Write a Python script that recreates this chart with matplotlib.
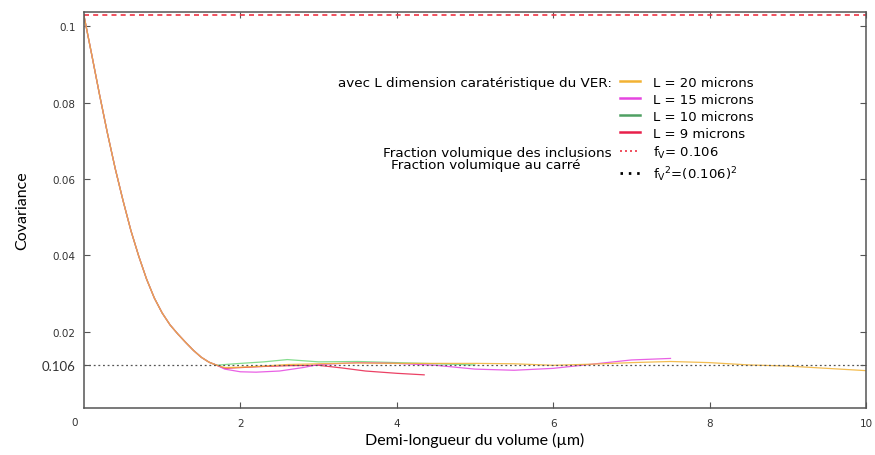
import matplotlib
matplotlib.use("Agg")
import matplotlib.pyplot as plt
from matplotlib.lines import Line2D

# ---------------- data ----------------
x_decay = [0.0, 0.1, 0.2, 0.3, 0.4, 0.5, 0.6, 0.7, 0.8, 0.9, 1.0, 1.1, 1.2, 1.3, 1.4, 1.5, 1.6, 1.7]
y_decay = [0.1028, 0.0925, 0.0820, 0.0720, 0.0627, 0.0543, 0.0465, 0.0398, 0.0338, 0.0288,
           0.0249, 0.0218, 0.0194, 0.0172, 0.0151, 0.0133, 0.0120, 0.0112]

x_L20 = [1.8, 2.0, 2.3, 2.6, 3.0, 3.5, 4.0, 4.5, 5.0, 5.5, 6.0, 6.5, 7.0, 7.5, 8.0, 8.5, 9.0, 9.5, 10.0]
y_L20 = [0.0106, 0.0107, 0.0110, 0.0114, 0.0116, 0.0118, 0.0117, 0.0117, 0.0117, 0.0116, 0.0112,
         0.0115, 0.0119, 0.0122, 0.0119, 0.0113, 0.0110, 0.0104, 0.0098]

x_L15 = [1.8, 2.0, 2.2, 2.5, 2.8, 3.0, 3.5, 4.0, 4.5, 5.0, 5.5, 6.0, 6.5, 7.0, 7.5]
y_L15 = [0.0102, 0.0095, 0.0094, 0.0097, 0.0106, 0.0114, 0.0119, 0.0117, 0.0112, 0.0102, 0.0099,
         0.0104, 0.0115, 0.0126, 0.0130]

x_L10 = [1.8, 2.0, 2.3, 2.6, 2.8, 3.0, 3.5, 4.0, 4.5, 5.0]
y_L10 = [0.0114, 0.0117, 0.0121, 0.0127, 0.0124, 0.0121, 0.0122, 0.0119, 0.0116, 0.0113]

x_L9 = [1.8, 2.0, 2.3, 2.6, 3.0, 3.3, 3.6, 4.0, 4.35]
y_L9 = [0.0104, 0.0106, 0.0109, 0.0111, 0.0112, 0.0105, 0.0097, 0.0091, 0.0087]

fv_line_level = 0.1030          # red dashed line as drawn (top of the frame)
fv2_line_level = 0.0112         # (0.106)^2

series_labels = ["L = 20 microns", "L = 15 microns", "L = 10 microns", "L = 9 microns"]
series_colors = ["#f2b233", "#e545e0", "#6fd77a", "#e8204a"]
legend_colors = ["#f2b233", "#e545e0", "#4fa063", "#e8204a"]

x_ticks = [2, 4, 6, 8, 10]
y_ticks = [0.02, 0.04, 0.06, 0.08, 0.1]
y_tick_labels = ["0.02", "0.04", "0.06", "0.08", "0.1"]

# ---------------- figure ----------------
fig = plt.figure(figsize=(8.75, 4.56), dpi=100)
ax = fig.add_axes([0.096, 0.103, 0.8937, 0.8685])

xs_all = [x_L20, x_L15, x_L10, x_L9]
ys_all = [y_L20, y_L15, y_L10, y_L9]
# draw L=9 first so the L=20 curve ends up on top as in the reference
for xs, ys, c in list(zip(xs_all, ys_all, series_colors))[::-1]:
    ax.plot(x_decay + xs, y_decay + ys, color=c, lw=0.9, alpha=0.85)

ax.axhline(fv_line_level, color="#ee3344", lw=1.2, ls=(0, (3, 2.5)))
ax.axhline(fv2_line_level, color="#555555", lw=0.9, ls=(0, (1.5, 2.2)))

ax.set_xlim(0, 10)
ax.set_ylim(0, 0.1038)

ax.set_xticks(x_ticks)
ax.set_xticklabels([str(t) for t in x_ticks], fontsize=7.5, color="#333333")
ax.set_yticks(y_ticks + [fv2_line_level])
ax.set_yticklabels(y_tick_labels + ["0.106"], fontsize=7.5, color="#333333")
ytl = ax.get_yticklabels()
ytl[-1].set_fontsize(9.5)
ytl[-1].set_fontfamily("Lato")
ytl[-1].set_color("black")
ax.tick_params(axis="both", direction="in", length=4, width=0.8, top=True, right=True,
               colors="#555555", labelcolor="#333333")
ax.tick_params(axis="y", pad=6)
ax.tick_params(axis="x", pad=7)
ax.annotate("0", xy=(0, 0), xycoords="data", xytext=(-7, -10), textcoords="offset points",
            fontsize=7.5, color="#333333", ha="center", va="center")

for s in ax.spines.values():
    s.set_color("#555555")
    s.set_linewidth(1.1)

ax.set_xlabel("Demi-longueur du volume (µm)", fontfamily="Lato", fontsize=11.5, labelpad=3)
ax.set_ylabel("Covariance", fontfamily="Lato", fontsize=11.5, labelpad=9)

# ---------------- legend ----------------
handles = [Line2D([], [], color=c, lw=1.8) for c in legend_colors]
handles += [Line2D([], [], color="#ee3344", lw=1.2, ls=(0, (1.2, 1.8))),
            Line2D([], [], color="black", lw=2.0, ls=(0, (0.9, 2.1)))]
labels = series_labels + [r"f$_\mathregular{V}$= 0.106", r"f$_\mathregular{V}$$^2$=(0.106)$^2$"]
leg = ax.legend(handles, labels, loc="upper left", bbox_to_anchor=(620 / 875, 1 - 77 / 456),
                bbox_transform=fig.transFigure, frameon=False, fontsize=9.5,
                handlelength=1.5, handletextpad=1.0, labelspacing=0.30, borderpad=0, borderaxespad=0)

fig.text(612 / 875, 1 - 84 / 456, "avec L dimension caratéristique du VER:", fontsize=9.7,
         ha="right", va="center")
fig.text(612 / 875, 1 - 153 / 456, "Fraction volumique des inclusions", fontsize=9.7,
         ha="right", va="center")
fig.text(391 / 875, 1 - 166 / 456, "Fraction volumique au carré", fontsize=9.7,
         ha="left", va="center")

fig.savefig("out.png", dpi=100)
